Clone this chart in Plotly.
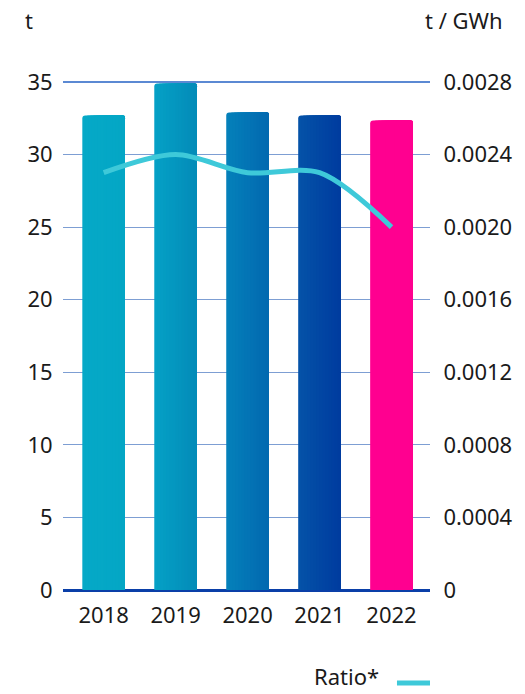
import plotly.graph_objects as go

years = ["2018", "2019", "2020", "2021", "2022"]
tonnes = [32.7, 34.9, 32.9, 32.7, 32.35]
ratio = [0.0023, 0.0024, 0.0023, 0.0023, 0.0020]
left_ticks = [0, 5, 10, 15, 20, 25, 30, 35]
right_ticks = [0, 0.0004, 0.0008, 0.0012, 0.0016, 0.0020, 0.0024, 0.0028]
right_labels = ["0", "0.0004", "0.0008", "0.0012", "0.0016", "0.0020", "0.0024", "0.0028"]

# bar gradient colours (left edge -> right edge)
grad_left = ["#05A9C7", "#05A1C6", "#0481BA", "#0453A8", "#FF0090"]
grad_right = ["#04A6C5", "#038BB8", "#0268B0", "#003B9F", "#FF0090"]
line_color = "#3EC9D9"


def hex2rgb(h):
    h = h.lstrip("#")
    return tuple(int(h[i:i + 2], 16) for i in (0, 2, 4))


def mix(a, b, t):
    ra, rb = hex2rgb(a), hex2rgb(b)
    return "rgb(%d,%d,%d)" % tuple(round(ra[k] + (rb[k] - ra[k]) * t) for k in range(3))


FONT = "Noto Sans"
FS = 22
BAR_W = 0.593
N = 14
fig = go.Figure()
for i in range(N):
    t = (i + 0.5) / N
    fig.add_trace(go.Bar(
        x=years, y=tonnes, width=BAR_W * (N - i) / N, offset=-BAR_W / 2 + i * BAR_W / N,
        marker=dict(color=[mix(a, b, t) for a, b in zip(grad_left, grad_right)], line=dict(width=0),
                    cornerradius=3),
        showlegend=False, hoverinfo="skip"))
fig.add_trace(go.Scatter(
    x=years, y=ratio, yaxis="y2", mode="lines", name="Ratio*", showlegend=False,
    line=dict(color=line_color, width=5, shape="spline", smoothing=0.9)))

fig.update_layout(
    width=525, height=694,
    margin=dict(l=63, r=95, t=82, b=104, autoexpand=False),
    paper_bgcolor="white", plot_bgcolor="white",
    font=dict(family=FONT, size=FS, color="#1a1a1a"),
    barmode="overlay",
    xaxis=dict(type="category", range=[-0.565, 4.535], showgrid=False, showline=False, automargin=False,
               ticks="outside", ticklen=6, tickcolor="rgba(0,0,0,0)"),
    yaxis=dict(range=[0, 35], tickvals=left_ticks, showgrid=True, gridcolor="#7D9ED3", gridwidth=1.3,
               zeroline=True, zerolinecolor="#0A3FA8", zerolinewidth=3, automargin=False,
               ticks="outside", ticklen=5, tickcolor="rgba(0,0,0,0)", showline=False),
    yaxis2=dict(range=[0, 0.0028], overlaying="y", side="right", tickvals=right_ticks, ticktext=right_labels,
                showgrid=False, zeroline=False, automargin=False,
                ticks="outside", ticklen=8, tickcolor="rgba(0,0,0,0)"),
    showlegend=False,
    shapes=[
        dict(type="line", xref="paper", yref="paper", x0=0, x1=1, y0=1, y1=1,
             line=dict(color="#2462C4", width=1.5)),
        dict(type="line", xref="paper", yref="paper", x0=0.91, x1=1.0, y0=-0.183, y1=-0.183,
             line=dict(color=line_color, width=5)),
    ],
    annotations=[
        dict(text="t", xref="paper", yref="paper", x=-0.11, y=1.122, xanchor="left", yanchor="middle",
             showarrow=False),
        dict(text="t / GWh", xref="paper", yref="paper", x=1.205, y=1.122, xanchor="right", yanchor="middle",
             showarrow=False),
        dict(text="Ratio*", xref="paper", yref="paper", x=0.867, y=-0.2025, xanchor="right", yanchor="bottom",
             showarrow=False),
    ],
)
fig.write_html("out.html")
